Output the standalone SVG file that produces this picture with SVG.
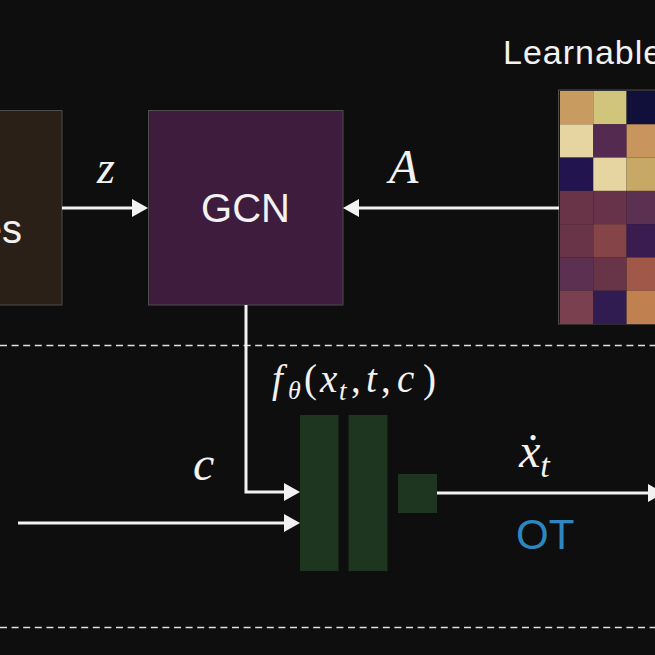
<svg xmlns="http://www.w3.org/2000/svg" width="655" height="655" viewBox="0 0 655 655">
<defs>
<style>
.sans{font-family:"Liberation Sans","Open Sans",Arial,sans-serif;fill:#f2f2f2}
.math{font-family:"Liberation Serif","DejaVu Serif",serif;fill:#f2f2f2;font-style:italic}
.up{font-style:normal}
.box{stroke:#4d4d4d;stroke-width:1}
.conn{fill:none;stroke:#f2f2f2;stroke-width:3}
.dash{stroke:#e0e0e0;stroke-width:1.5;stroke-dasharray:7 4.6}
.green{fill:#1e351f}
</style>
<marker id="ah" markerUnits="userSpaceOnUse" viewBox="0 0 16 18" refX="8" refY="9" markerWidth="16" markerHeight="18" orient="auto">
<path d="M0,0 L16,9 L0,18 Z" fill="#f2f2f2"/>
</marker>
</defs>
<rect width="655" height="655" fill="#0e0e0e"/>

<line class="dash" x1="0" y1="345.5" x2="655" y2="345.5"/>
<line class="dash" x1="0" y1="627.5" x2="655" y2="627.5"/>

<g id="node-left">
<rect class="box" x="-20" y="110.5" width="82" height="194.5" fill="#2b2018"/>
<text class="sans" x="22" y="243" font-size="40" text-anchor="end">es</text>
</g>

<g id="node-gcn">
<rect class="box" x="148.5" y="110.5" width="194.5" height="194.5" fill="#3e1c3e"/>
<text class="sans" x="245.5" y="222" font-size="40" text-anchor="middle">GCN</text>
</g>

<g id="node-matrix">
<text class="sans" x="503" y="64" font-size="34" letter-spacing="1">Learnable</text>
<rect x="558.5" y="90" width="110" height="234" fill="#1a1a1a" stroke="#4d4d4d" stroke-width="1"/>
<g>
<rect x="560" y="91" width="33.3" height="33.3" fill="#c89c60"/>
<rect x="593.3" y="91" width="33.3" height="33.3" fill="#d0c57a"/>
<rect x="626.6" y="91" width="33.3" height="33.3" fill="#10103a"/>
<rect x="560" y="124.3" width="33.3" height="33.3" fill="#e6d5a0"/>
<rect x="593.3" y="124.3" width="33.3" height="33.3" fill="#552a50"/>
<rect x="626.6" y="124.3" width="33.3" height="33.3" fill="#c8955e"/>
<rect x="560" y="157.6" width="33.3" height="33.3" fill="#22154f"/>
<rect x="593.3" y="157.6" width="33.3" height="33.3" fill="#e6d5a0"/>
<rect x="626.6" y="157.6" width="33.3" height="33.3" fill="#c8a865"/>
<rect x="560" y="190.9" width="33.3" height="33.3" fill="#6a3448"/>
<rect x="593.3" y="190.9" width="33.3" height="33.3" fill="#66334a"/>
<rect x="626.6" y="190.9" width="33.3" height="33.3" fill="#5c3050"/>
<rect x="560" y="224.2" width="33.3" height="33.3" fill="#6a3448"/>
<rect x="593.3" y="224.2" width="33.3" height="33.3" fill="#844448"/>
<rect x="626.6" y="224.2" width="33.3" height="33.3" fill="#3a1c50"/>
<rect x="560" y="257.5" width="33.3" height="33.3" fill="#5c3050"/>
<rect x="593.3" y="257.5" width="33.3" height="33.3" fill="#683448"/>
<rect x="626.6" y="257.5" width="33.3" height="33.3" fill="#a05848"/>
<rect x="560" y="290.8" width="33.3" height="33.3" fill="#7a4050"/>
<rect x="593.3" y="290.8" width="33.3" height="33.3" fill="#301c50"/>
<rect x="626.6" y="290.8" width="33.3" height="33.3" fill="#c08050"/>
</g>
</g>

<g id="node-f">
<rect class="green" x="300" y="415" width="38.5" height="156"/>
<rect class="green" x="348.5" y="415" width="39" height="156"/>
<rect class="green" x="398" y="474" width="39" height="39"/>
<text class="math" font-size="39" y="392"><tspan x="272">f</tspan><tspan x="288" dy="7" font-size="26">θ</tspan><tspan class="up" x="304" dy="-7">(</tspan><tspan x="320">x</tspan><tspan x="339" dy="8" font-size="27">t</tspan><tspan class="up" x="351" dy="-8">,</tspan><tspan x="366">t</tspan><tspan class="up" x="381">,</tspan><tspan x="397">c</tspan><tspan class="up" x="423">)</tspan></text>
</g>

<g id="connectors">
<path class="conn" d="M62,208 H140" marker-end="url(#ah)"/>
<path class="conn" d="M559,208 H351" marker-end="url(#ah)"/>
<path class="conn" d="M246,305 V492 H292" marker-end="url(#ah)"/>
<path class="conn" d="M18,523 H292" marker-end="url(#ah)"/>
<path class="conn" d="M437,493 H656" marker-end="url(#ah)"/>
</g>

<g id="labels">
<text class="math" x="97" y="183" font-size="46">z</text>
<text class="math" x="389" y="183" font-size="48">A</text>
<text class="math" x="193" y="480" font-size="48">c</text>
<text class="math" x="519" y="467" font-size="48">ẋ<tspan font-size="34" dy="10">t</tspan></text>
<text x="516" y="549" font-size="42" font-family="Liberation Sans, Arial, sans-serif" fill="#2e86c1">OT</text>
</g>
</svg>
